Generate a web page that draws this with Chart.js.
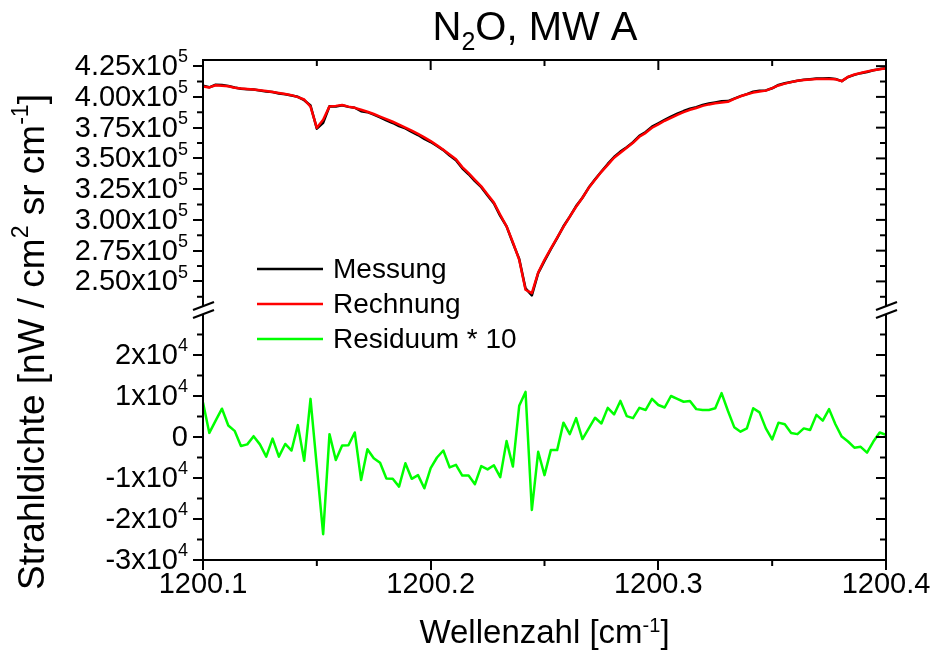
<!DOCTYPE html>
<html>
<head>
<meta charset="utf-8">
<title>N2O, MW A</title>
<script src="https://cdn.jsdelivr.net/npm/chart.js@4.4.1/dist/chart.umd.min.js"></script>
<style>
  html, body { margin: 0; padding: 0; background: #fff; }
  #wrap { width: 934px; height: 653px; }
</style>
</head>
<body>
<div id="wrap"><canvas id="spectrumChart"></canvas></div>
<script>
// wavenumber grid of the microwindow (cm^-1), 109 samples
const nuStart = 1200.1;
const nuEnd = 1200.4;
const nSamples = 109;

// radiance, in 1e3 nW/(cm2 sr cm-1)
const messungK = [
  409.2, 407.8, 409.9, 409.7, 408.9, 407.6, 406.7, 406.3, 406.0, 405.2,
  404.3, 404.0, 402.7, 402.1, 401.1, 400.1, 397.3, 393.0, 374.2, 379.0,
  392.4, 392.1, 393.2, 391.9, 391.2, 388.4, 387.6, 385.6, 383.4, 381.0,
  378.8, 376.3, 374.4, 371.6, 369.0, 365.9, 363.3, 360.1, 356.7, 352.4,
  348.6, 342.0, 337.1, 331.5, 326.6, 319.9, 313.4, 303.2, 294.7, 281.1,
  268.3, 244.3, 238.6, 256.7, 266.7, 276.3, 285.2, 294.8, 302.7, 311.2,
  318.0, 326.3, 333.1, 339.4, 345.5, 351.1, 355.5, 359.1, 363.2, 368.3,
  371.5, 375.8, 378.5, 381.3, 384.0, 386.3, 388.5, 390.4, 391.7, 393.4,
  394.6, 395.5, 396.5, 396.6, 398.6, 400.6, 402.3, 404.2, 405.0, 405.3,
  407.0, 409.7, 411.1, 412.1, 413.2, 413.9, 414.4, 415.0, 415.0, 415.2,
  414.6, 412.8, 416.2, 417.9, 419.3, 420.3, 421.6, 422.6, 423.4
];
const rechnungK = [
  408.4, 407.7, 409.5, 409.0, 408.6, 407.4, 406.9, 406.5, 406.0, 405.4,
  404.8, 404.0, 403.2, 402.3, 401.4, 399.8, 397.9, 392.1, 374.9, 381.4,
  392.3, 392.7, 393.4, 392.1, 391.1, 389.5, 387.9, 386.1, 384.0, 382.0,
  379.8, 377.5, 375.0, 372.6, 369.9, 367.1, 364.1, 360.6, 357.0, 353.1,
  349.3, 342.9, 338.0, 332.6, 327.3, 320.7, 314.1, 304.2, 294.8, 281.8,
  267.6, 243.2, 240.4, 257.1, 267.6, 276.6, 285.5, 294.4, 302.6, 310.7,
  318.0, 326.1, 332.6, 339.1, 344.8, 350.5, 354.6, 358.6, 362.7, 367.6,
  370.8, 374.9, 377.7, 380.6, 383.0, 385.4, 387.6, 389.5, 391.0, 392.7,
  393.9, 394.8, 395.4, 396.0, 398.4, 400.5, 402.1, 403.5, 404.4, 405.1,
  407.1, 409.3, 410.8, 412.0, 413.1, 413.7, 414.2, 414.5, 414.6, 414.5,
  414.3, 412.8, 416.3, 418.2, 419.5, 420.7, 421.7, 422.5, 423.3
];
// (Messung - Rechnung) * 10, in 1e3 units
const residuumK = [
  8.4, 1.0, 4.0, 6.9, 2.8, 1.5, -2.2, -1.8, 0.2, -1.8,
  -4.8, -0.4, -4.8, -1.7, -3.3, 2.9, -5.8, 9.3, -7.2, -23.7,
  0.7, -5.6, -2.1, -2.0, 1.1, -10.5, -3.0, -5.2, -6.3, -10.1,
  -10.2, -12.1, -6.4, -10.2, -9.3, -12.5, -7.6, -5.0, -3.3, -7.4,
  -6.8, -9.4, -9.4, -11.5, -7.1, -7.9, -6.9, -9.8, -1.0, -7.2,
  7.6, 11.0, -17.8, -3.6, -9.3, -3.2, -3.2, 3.5, 0.7, 4.6,
  -0.5, 2.1, 4.7, 3.3, 7.1, 5.5, 8.8, 5.1, 4.6, 7.1,
  6.6, 9.3, 7.8, 7.2, 10.0, 9.3, 8.6, 8.8, 6.8, 6.6,
  6.6, 7.0, 10.7, 6.4, 2.4, 1.3, 2.1, 7.0, 6.0, 2.1,
  -0.6, 3.5, 3.1, 1.0, 0.7, 2.1, 1.7, 5.4, 4.0, 6.8,
  3.1, 0.1, -1.1, -2.6, -2.4, -3.8, -1.1, 1.1, 0.5
];

// tick values
const xTicks = [1200.1, 1200.2, 1200.3, 1200.4];
const xMinor = [1200.15, 1200.25, 1200.35];
const upTicks = [250000, 275000, 300000, 325000, 350000, 375000, 400000, 425000];
const upMinor = [237500, 262500, 287500, 312500, 337500, 362500, 387500, 412500];
const lowTicks = [-30000, -20000, -10000, 0, 10000, 20000];
const lowMinor = [-25000, -15000, -5000, 5000, 15000, 25000];

// axis break: upper part ends at 2.30e5, lower part starts at 3e4
const upBreak = 230000;
const upMin = 223500;   // upper scale runs a bit lower to leave the gap
const upMax = 430000;
const lowMin = -30000;
const lowMax = 30000;

const FONT = 'Liberation Sans, Arial, Helvetica, sans-serif';
Chart.defaults.font.family = FONT;
Chart.defaults.color = '#000';

const wavenumbers = Array.from({ length: nSamples }, (_, i) => nuStart + i * (nuEnd - nuStart) / (nSamples - 1));
const toPoints = (vals, k) => vals.map((v, i) => ({ x: wavenumbers[i], y: v * k }));

function line(ctx, x1, y1, x2, y2) {
  ctx.beginPath();
  ctx.moveTo(x1, y1);
  ctx.lineTo(x2, y2);
  ctx.stroke();
}

// text with super-/subscripts; align 'center' or 'right'
function drawRich(ctx, parts, x, y, size, align) {
  const fontOf = p => (p.sup || p.sub ? Math.round(size * 0.62) : size) + 'px ' + FONT;
  let w = 0;
  parts.forEach(p => { ctx.font = fontOf(p); w += ctx.measureText(p.t).width; });
  let cx = align === 'right' ? x - w : x - w / 2;
  ctx.textAlign = 'left';
  parts.forEach(p => {
    ctx.font = fontOf(p);
    const dy = p.sup ? -size * 0.34 : (p.sub ? size * 0.25 : 0);
    ctx.fillText(p.t, cx, y + dy);
    cx += ctx.measureText(p.t).width;
  });
}

function upLabel(v) {
  return [{ t: (v / 1e5).toFixed(2) + 'x10' }, { t: '5', sup: true }];
}
function lowLabel(v) {
  return v === 0 ? [{ t: '0' }] : [{ t: (v / 1e4) + 'x10' }, { t: '4', sup: true }];
}

const axisDecor = {
  id: 'axisDecor',
  afterDraw(chart) {
    const { ctx, chartArea: a, scales } = chart;
    const xS = scales.x, up = scales.yUp, low = scales.yLow;
    const breakTop = up.getPixelForValue(upBreak);
    const breakBot = low.getPixelForValue(lowMax);

    ctx.save();
    ctx.strokeStyle = '#000';
    ctx.fillStyle = '#000';
    ctx.lineWidth = 2;

    // frame, left and right sides broken
    line(ctx, a.left - 1, a.top, a.right + 1, a.top);
    line(ctx, a.left - 1, a.bottom, a.right + 1, a.bottom);
    [a.left, a.right].forEach(x => {
      line(ctx, x, a.top, x, breakTop);
      line(ctx, x, breakBot, x, a.bottom);
    });

    // x: top ticks inward, minor ticks
    xTicks.forEach(v => {
      const px = xS.getPixelForValue(v);
      line(ctx, px, a.top, px, a.top + 10);
    });
    xMinor.forEach(v => {
      const px = xS.getPixelForValue(v);
      line(ctx, px, a.top, px, a.top + 6);
      line(ctx, px, a.bottom, px, a.bottom + 6);
    });

    // y: right ticks inward, minor ticks both sides, labels on the left
    ctx.textBaseline = 'middle';
    [[up, upTicks, upMinor, upLabel], [low, lowTicks, lowMinor, lowLabel]].forEach(([s, major, minor, lab]) => {
      major.forEach(v => {
        const py = s.getPixelForValue(v);
        line(ctx, a.right - 10, py, a.right, py);
        drawRich(ctx, lab(v), a.left - 15, py + 1, 29, 'right');
      });
      minor.forEach(v => {
        const py = s.getPixelForValue(v);
        line(ctx, a.left - 6, py, a.left, py);
        line(ctx, a.right - 6, py, a.right, py);
      });
    });

    // break marks
    [a.left, a.right].forEach(x => {
      [breakTop, breakBot].forEach(c => line(ctx, x - 10, c + 4, x + 11, c - 4));
    });

    // title
    ctx.textBaseline = 'alphabetic';
    drawRich(ctx, [{ t: 'N' }, { t: '2', sub: true }, { t: 'O, MW A' }], 535, 40, 40, 'center');

    // x axis title
    drawRich(ctx, [{ t: 'Wellenzahl [cm' }, { t: '-1', sup: true }, { t: ']' }], (a.left + a.right) / 2, 643, 33, 'center');

    // y axis title
    ctx.textBaseline = 'middle';
    ctx.save();
    ctx.translate(34, 342);
    ctx.rotate(-Math.PI / 2);
    drawRich(ctx, [
      { t: 'Strahldichte [nW / cm' }, { t: '2', sup: true },
      { t: ' sr cm' }, { t: '-1', sup: true }, { t: ']' }
    ], 0, 0, 37, 'center');
    ctx.restore();

    // legend inside the plot
    ctx.font = '28px ' + FONT;
    ctx.textAlign = 'left';
    ctx.lineWidth = 2.5;
    chart.data.datasets.forEach((ds, i) => {
      const y = 269 + i * 35;
      ctx.strokeStyle = ds.borderColor;
      line(ctx, 257, y, 323, y);
      ctx.fillText(ds.label, 333, y + 1);
    });
    ctx.restore();
  }
};

const tickGrid = { drawOnChartArea: false, drawTicks: true, tickLength: 10, lineWidth: 2, color: '#000' };

new Chart(document.getElementById('spectrumChart'), {
  type: 'line',
  data: {
    datasets: [
      { label: 'Messung', data: toPoints(messungK, 1000), yAxisID: 'yUp', borderColor: '#000000', borderWidth: 2.5, order: 2 },
      { label: 'Rechnung', data: toPoints(rechnungK, 1000), yAxisID: 'yUp', borderColor: '#ff0000', borderWidth: 2.5, order: 1 },
      { label: 'Residuum * 10', data: toPoints(residuumK, 1000), yAxisID: 'yLow', borderColor: '#00ff00', borderWidth: 2.5, order: 0 }
    ]
  },
  options: {
    responsive: true,
    maintainAspectRatio: false,
    devicePixelRatio: 1,
    animation: false,
    layout: { padding: { left: 0, right: 48, top: 60, bottom: 0 } },
    elements: { point: { radius: 0 }, line: { tension: 0, borderJoinStyle: 'round' } },
    plugins: {
      legend: { display: false },
      tooltip: { enabled: false },
      title: { display: false }
    },
    scales: {
      x: {
        type: 'linear',
        min: nuStart,
        max: nuEnd,
        afterBuildTicks: s => { s.ticks = xTicks.map(v => ({ value: v })); },
        afterFit: s => { s.height = 93; },
        ticks: { font: { size: 29 }, color: '#000', padding: -2, maxRotation: 0, autoSkip: false, callback: v => v.toFixed(1) },
        grid: tickGrid,
        border: { display: false }
      },
      yLow: {
        axis: 'y',
        type: 'linear',
        position: 'left',
        stack: 'strahl',
        stackWeight: 246,
        min: lowMin,
        max: lowMax,
        afterBuildTicks: s => { s.ticks = lowTicks.map(v => ({ value: v })); },
        afterFit: s => { s.width = 203; },
        ticks: { display: false },
        grid: tickGrid,
        border: { display: false }
      },
      yUp: {
        axis: 'y',
        type: 'linear',
        position: 'left',
        stack: 'strahl',
        stackWeight: 254,
        min: upMin,
        max: upMax,
        afterBuildTicks: s => { s.ticks = upTicks.map(v => ({ value: v })); },
        afterFit: s => { s.width = 203; },
        ticks: { display: false },
        grid: tickGrid,
        border: { display: false }
      }
    }
  },
  plugins: [axisDecor]
});
</script>
</body>
</html>
